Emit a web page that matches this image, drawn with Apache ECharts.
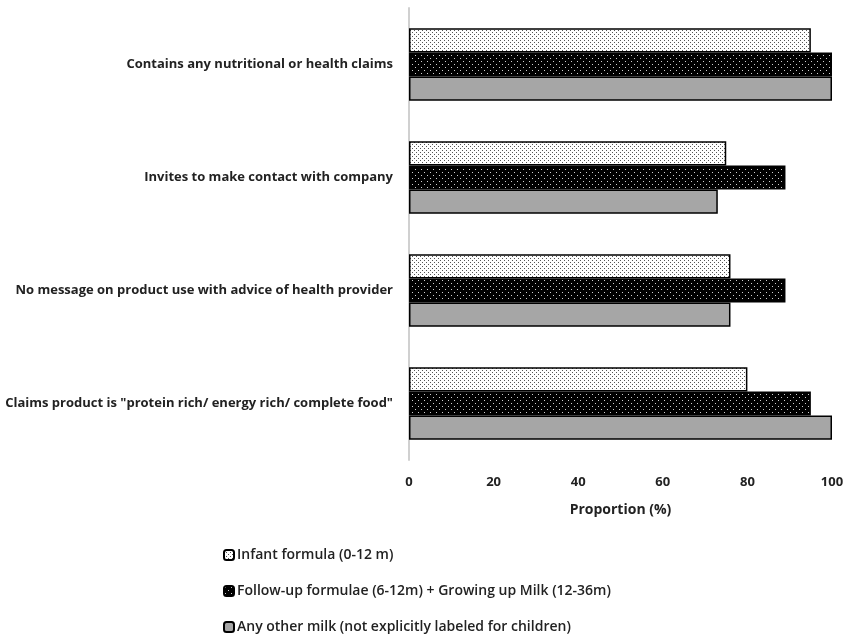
<!DOCTYPE html>
<html><head><meta charset="utf-8">
<script src="https://cdn.jsdelivr.net/npm/echarts@6/dist/echarts.min.js"></script>
<style>html,body{margin:0;padding:0;background:#fff}#c{width:843px;height:635px}</style>
</head><body><div id="c"></div>
<script>
const categories = [
  'Contains any nutritional or health claims',
  'Invites to make contact with company',
  'No message on product use with advice of health provider',
  'Claims product is "protein rich/ energy rich/ complete food"'
];
const seriesNames = [
  'Infant formula (0-12 m)',
  'Follow-up formulae (6-12m) + Growing up Milk (12-36m)',
  'Any other milk (not explicitly labeled for children)'
];
const infantValues = [95, 75, 76, 80];
const followUpValues = [100, 89, 89, 95];
const otherMilkValues = [100, 73, 76, 100];
const xTicks = [0, 20, 40, 60, 80, 100];

function pattern(w, h, bg, fg, pts) {
  const c = document.createElement('canvas');
  c.width = w; c.height = h;
  const ctx = c.getContext('2d');
  ctx.fillStyle = bg; ctx.fillRect(0, 0, w, h);
  ctx.fillStyle = fg;
  pts.forEach(p => ctx.fillRect(p[0], p[1], 1, 1));
  return c;
}
const infantPat = {image: pattern(4, 4, '#ffffff', '#555555', [[0,0],[2,2]]), repeat: 'repeat'};
const followPat = {image: pattern(6, 6, '#000000', '#d0d0d0', [[1,1],[4,4]]), repeat: 'repeat'};

const font = 'Open Sans';
const chart = echarts.init(document.getElementById('c'));
const mk = (name, data, color) => ({
  name, type: 'bar', data, barGap: '0%', barCategoryGap: '36%',
  itemStyle: {color, borderColor: '#000', borderWidth: 1.5},
  emphasis: {disabled: true}
});
chart.setOption({
  animation: false,
  grid: {left: 409, right: 11, top: 8, bottom: 175, containLabel: false, outerBoundsMode: 'none'},
  legend: {
    orient: 'vertical', left: 218, top: 543, height: 100, itemGap: 22,
    itemWidth: 10, itemHeight: 10,
    textStyle: {fontFamily: font, fontSize: 14, fontWeight: 600, color: '#222', padding: [0,0,0,-2]},
    data: seriesNames
  },
  xAxis: {
    type: 'value', min: 0, max: 100, interval: 20,
    axisLine: {show: false}, axisTick: {show: false}, splitLine: {show: false},
    axisLabel: {fontFamily: font, fontSize: 13, fontWeight: 'bold', color: '#222', margin: 16,
      formatter: v => xTicks.includes(v) ? String(v) : ''},
    name: 'Proportion (%)', nameLocation: 'middle', nameGap: 43,
    nameTextStyle: {fontFamily: font, fontSize: 14, fontWeight: 'bold', color: '#222'}
  },
  yAxis: {
    type: 'category', data: categories, inverse: true,
    axisLine: {show: true, lineStyle: {color: '#d0d0d0', width: 2}},
    axisTick: {show: false},
    axisLabel: {fontFamily: font, fontSize: 13, fontWeight: 'bold', color: '#222', margin: 16}
  },
  series: [
    mk(seriesNames[0], infantValues, infantPat),
    mk(seriesNames[1], followUpValues, followPat),
    mk(seriesNames[2], otherMilkValues, '#a6a6a6')
  ]
});
</script></body></html>
